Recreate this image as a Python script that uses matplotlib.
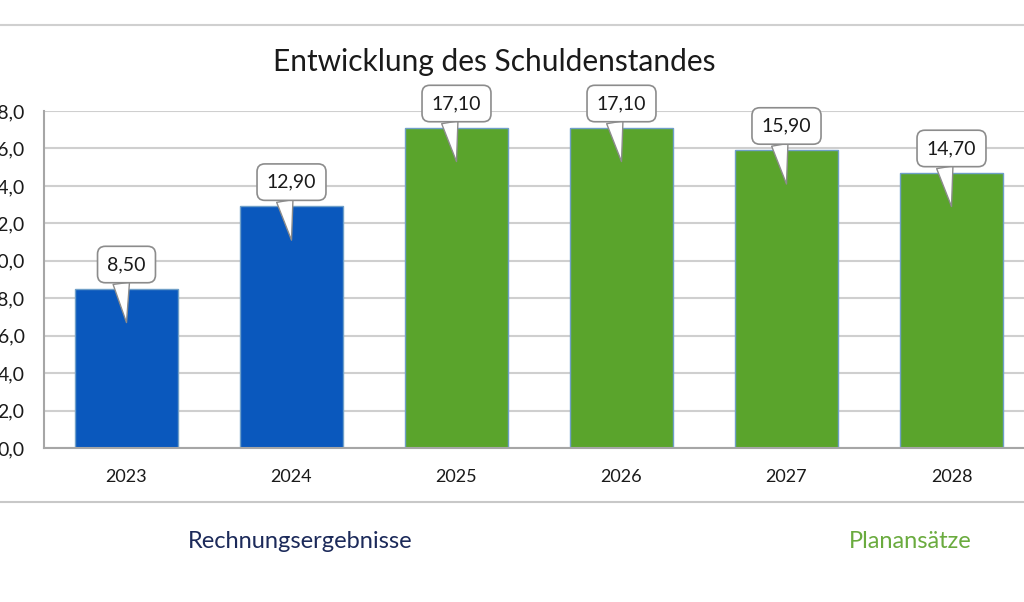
import matplotlib
matplotlib.use("Agg")
import matplotlib.pyplot as plt
from matplotlib.lines import Line2D
import numpy as np

plt.rcParams["font.family"] = ["Lato", "DejaVu Sans"]

years = ["2023", "2024", "2025", "2026", "2027", "2028"]
debt = [8.50, 12.90, 17.10, 17.10, 15.90, 14.70]
kind = ["ist", "ist", "plan", "plan", "plan", "plan"]
yticks = [0, 2, 4, 6, 8, 10, 12, 14, 16, 18]

C_IST, C_PLAN = "#0a58bd", "#5aa42c"
C_IST_TXT, C_PLAN_TXT = "#1c2a5a", "#6aab3e"
fill = {"ist": C_IST, "plan": C_PLAN}

fig = plt.figure(figsize=(10.24, 6.02), dpi=100)
ax = fig.add_axes([44 / 1024, 154 / 602, 990 / 1024, 337 / 602])

x = np.arange(len(years))
ax.bar(x, debt, width=0.63, color=[fill[k] for k in kind],
       edgecolor="#6f9fc8", linewidth=1.0, zorder=2)

# callout labels above each bar, pointer reaching into the bar
for xi, v in zip(x, debt):
    ax.annotate(f"{v:.2f}".replace(".", ","), xy=(xi, v - 1.8), xytext=(xi, v + 1.3),
                ha="center", va="center", fontsize=14, color="#1a1a1a", zorder=4,
                bbox=dict(boxstyle="round,pad=0.5,rounding_size=0.4", fc="white", ec="#8c8c8c", lw=1.2),
                arrowprops=dict(arrowstyle="wedge,tail_width=0.85", fc="white", ec="#8c8c8c",
                                lw=1.0, relpos=(0.3, 0.5), shrinkA=0, shrinkB=0))

ax.set_xlim(-0.5, len(years) - 0.5)
ax.set_ylim(0, 18)
ax.set_yticks(yticks)
ax.set_yticklabels([f"{t:.1f}".replace(".", ",") for t in yticks], fontsize=14, color="#1a1a1a")
ax.set_xticks(x)
ax.set_xticklabels(years, fontsize=13, color="#1a1a1a")
ax.tick_params(axis="y", length=0, pad=14)
ax.tick_params(axis="x", length=0, pad=15)
ax.grid(axis="y", color="#cfcfcf", lw=1.5, zorder=0)
ax.set_axisbelow(True)
for s in ["top", "right"]:
    ax.spines[s].set_visible(False)
for s in ["left", "bottom"]:
    ax.spines[s].set_color("#a6a6a6")
    ax.spines[s].set_linewidth(1.5)

fig.text(494 / 1024, 1 - 62 / 602, "Entwicklung des Schuldenstandes", ha="center", va="center",
         fontsize=21.5, color="#1a1a1a")
fig.add_artist(Line2D([0, 1], [1 - 25 / 602] * 2, color="#d0d0d0", lw=1.5))
fig.add_artist(Line2D([0, 1], [1 - 502 / 602] * 2, color="#c8c8c8", lw=1.5))
fig.text(300 / 1024, 1 - 541 / 602, "Rechnungsergebnisse", ha="center", va="center",
         fontsize=17, color=C_IST_TXT)
fig.text(910 / 1024, 1 - 541 / 602, "Planansätze", ha="center", va="center",
         fontsize=17, color=C_PLAN_TXT)

fig.savefig("out.png", dpi=100)
